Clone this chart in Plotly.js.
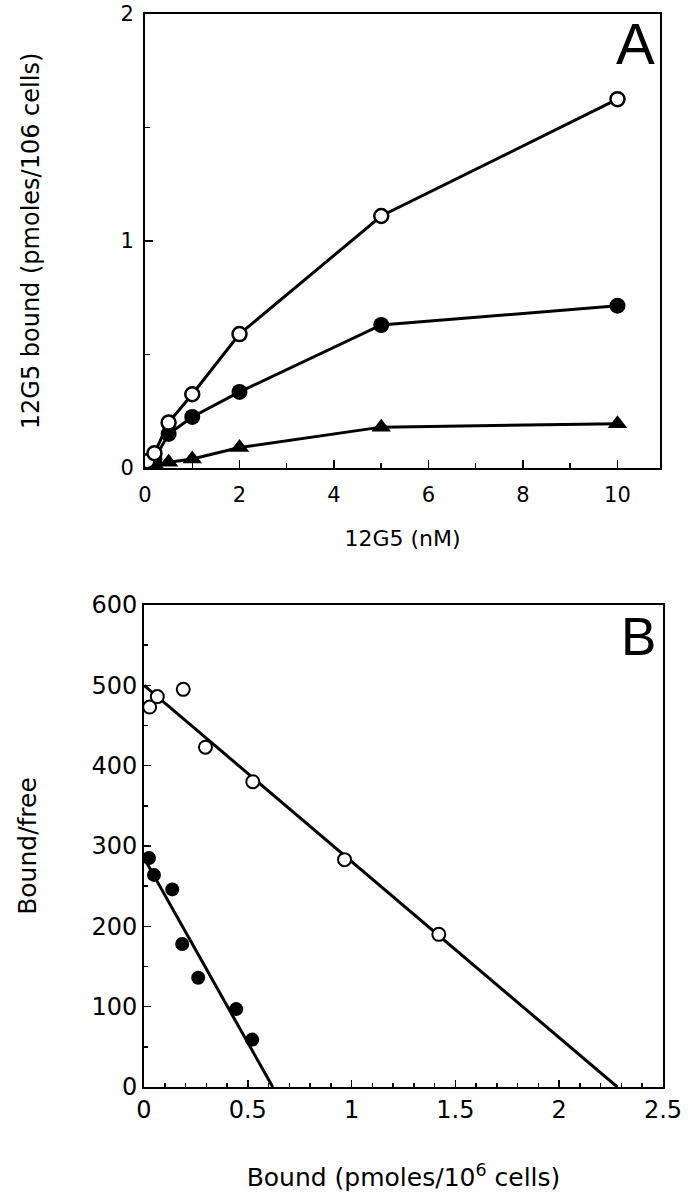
<!DOCTYPE html>
<html>
<head>
<meta charset="utf-8">
<script src="https://cdn.plot.ly/plotly-3.0.1.min.js"></script>
<style>html,body{margin:0;padding:0;background:#fff;}#chart{width:692px;height:1200px;}</style>
</head>
<body>
<div id="chart"></div>
<script>
// Panel A: saturation binding
const aDose = [0.05, 0.2, 0.5, 1, 2, 5, 10];
const aOpen = [0.03, 0.065, 0.2, 0.325, 0.59, 1.11, 1.625];
const aFilled = [0.01, 0.04, 0.15, 0.225, 0.335, 0.63, 0.715];
const aTriangle = [0.005, 0.015, 0.025, 0.04, 0.09, 0.18, 0.195];
const aXTicks = [0, 2, 4, 6, 8, 10];
const aYTicks = [0, 1, 2];

// Panel B: Scatchard plot
const bOpenX = [0.027, 0.064, 0.189, 0.296, 0.524, 0.966, 1.42];
const bOpenY = [473, 486, 495, 423, 380, 283, 190];
const bFilledX = [0.024, 0.048, 0.136, 0.184, 0.261, 0.444, 0.521];
const bFilledY = [285, 264, 246, 178, 136, 97, 59];
const fitOpenX = [0, 2.28];
const fitOpenY = [500, 0];
const fitFilledX = [0, 0.62];
const fitFilledY = [285, 0];
const bXTicks = [0, 0.5, 1, 1.5, 2, 2.5];
const bXTickText = ['0', '0.5', '1', '1.5', '2', '2.5'];
const bYTicks = [0, 100, 200, 300, 400, 500, 600];

const W = 692, H = 1200;
const FONT = 'DejaVu Sans, Verdana, sans-serif';

const traces = [
  {x: aDose, y: aTriangle, xaxis: 'x', yaxis: 'y', mode: 'lines+markers',
   line: {color: '#000', width: 3},
   marker: {symbol: 'triangle-up', size: 17, color: '#000'}},
  {x: aDose, y: aFilled, xaxis: 'x', yaxis: 'y', mode: 'lines+markers',
   line: {color: '#000', width: 3},
   marker: {symbol: 'circle', size: 16, color: '#000'}},
  {x: aDose, y: aOpen, xaxis: 'x', yaxis: 'y', mode: 'lines+markers',
   line: {color: '#000', width: 3},
   marker: {symbol: 'circle', size: 14, color: '#fff', line: {color: '#000', width: 2.5}}},
  {x: fitOpenX, y: fitOpenY, xaxis: 'x2', yaxis: 'y2', mode: 'lines',
   line: {color: '#000', width: 3}},
  {x: fitFilledX, y: fitFilledY, xaxis: 'x2', yaxis: 'y2', mode: 'lines',
   line: {color: '#000', width: 3}},
  {x: bOpenX, y: bOpenY, xaxis: 'x2', yaxis: 'y2', mode: 'markers',
   marker: {symbol: 'circle', size: 13, color: '#fff', line: {color: '#000', width: 2}}},
  {x: bFilledX, y: bFilledY, xaxis: 'x2', yaxis: 'y2', mode: 'markers',
   marker: {symbol: 'circle', size: 14, color: '#000'}}
];

function axisBase(extra) {
  return Object.assign({
    showline: true, linecolor: '#000', linewidth: 2, mirror: true,
    showgrid: false, zeroline: false,
    ticks: 'inside', tickcolor: '#000', tickwidth: 1.5,
    tickmode: 'array', fixedrange: true
  }, extra);
}

const layout = {
  width: W, height: H,
  margin: {l: 0, r: 0, t: 0, b: 0},
  paper_bgcolor: '#fff', plot_bgcolor: '#fff',
  showlegend: false,
  font: {family: FONT, color: '#000'},
  xaxis: axisBase({
    domain: [145 / W, 660 / W], anchor: 'y', range: [0, 10.9],
    tickvals: aXTicks, ticktext: aXTicks.map(String), ticklen: 8,
    ticklabelstandoff: 7,
    minor: {ticks: 'inside', dtick: 1, tick0: 0, ticklen: 5, tickcolor: '#000', tickwidth: 1.5},
    tickfont: {size: 21, family: FONT},
    title: {text: '12G5 (nM)', font: {size: 22, family: FONT}, standoff: 24}
  }),
  yaxis: axisBase({
    domain: [1 - 468 / H, 1 - 14 / H], anchor: 'x', range: [0, 2],
    tickvals: aYTicks, ticktext: aYTicks.map(String), ticklen: 8,
    ticklabelstandoff: 5,
    minor: {ticks: 'inside', dtick: 0.5, tick0: 0, ticklen: 5, tickcolor: '#000', tickwidth: 1.5},
    tickfont: {size: 21, family: FONT},
    title: {text: '12G5 bound (pmoles/106 cells)', font: {size: 24, family: FONT}, standoff: 74}
  }),
  xaxis2: axisBase({
    domain: [144 / W, 663 / W], anchor: 'y2', range: [0, 2.5],
    tickvals: bXTicks, ticktext: bXTickText, ticklen: 7,
    minor: {ticks: 'inside', dtick: 0.1, tick0: 0, ticklen: 4, tickcolor: '#000', tickwidth: 1.5},
    tickfont: {size: 24, family: FONT},
    title: {text: 'Bound (pmoles/10<sup>6</sup> cells)', font: {size: 25, family: FONT}, standoff: 46}
  }),
  yaxis2: axisBase({
    domain: [1 - 1087 / H, 1 - 605 / H], anchor: 'x2', range: [0, 600],
    tickvals: bYTicks, ticktext: bYTicks.map(String), ticklen: 7,
    minor: {ticks: 'inside', dtick: 50, tick0: 0, ticklen: 4, tickcolor: '#000', tickwidth: 1.5},
    tickfont: {size: 24, family: FONT},
    title: {text: 'Bound/free', font: {size: 25, family: FONT}, standoff: 48}
  }),
  annotations: [
    {text: 'A', xref: 'x domain', yref: 'y domain', x: 0.995, y: 1.01,
     xanchor: 'right', yanchor: 'top', showarrow: false,
     font: {family: 'Liberation Sans, Arial, sans-serif', size: 58, color: '#000'}},
    {text: 'B', xref: 'x2 domain', yref: 'y2 domain', x: 0.99, y: 1.0,
     xanchor: 'right', yanchor: 'top', showarrow: false,
     font: {family: 'Liberation Sans, Arial, sans-serif', size: 53, color: '#000'}}
  ]
};

Plotly.newPlot('chart', traces, layout, {displayModeBar: false, staticPlot: true});
</script>
</body>
</html>
